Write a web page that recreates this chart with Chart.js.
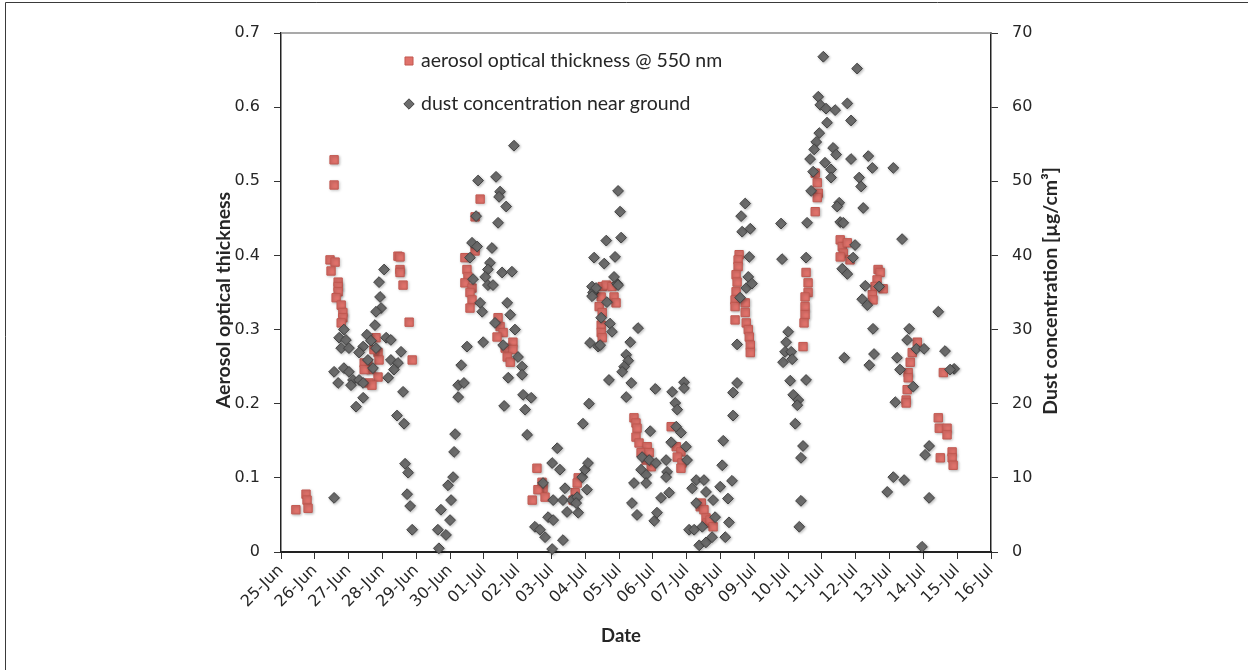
<!DOCTYPE html>
<html>
<head>
<meta charset="utf-8">
<script src="https://cdn.jsdelivr.net/npm/chart.js@4.4.1/dist/chart.umd.min.js"></script>
<style>
  html, body { margin: 0; padding: 0; background: #ffffff; }
  #wrap { width: 1248px; height: 670px; position: relative; }
</style>
</head>
<body>
<div id="wrap"><canvas id="c" width="1248" height="670"></canvas></div>
<script>
// ---- data (x = days since 25-Jun 00:00) ----
const dateLabels = ['25-Jun','26-Jun','27-Jun','28-Jun','29-Jun','30-Jun','01-Jul','02-Jul','03-Jul','04-Jul','05-Jul','06-Jul','07-Jul','08-Jul','09-Jul','10-Jul','11-Jul','12-Jul','13-Jul','14-Jul','15-Jul','16-Jul'];
const leftTickLabels = ['0','0.1','0.2','0.3','0.4','0.5','0.6','0.7'];
const rightTickLabels = ['0','10','20','30','40','50','60','70'];

const aotLabel = 'aerosol optical thickness @ 550 nm';
const dustLabel = 'dust concentration near ground';

const aotDays = [
  0.44,0.74,0.77,0.80,
  1.57,1.57,1.45,1.60,1.48,1.69,1.69,1.69,1.63,1.78,1.83,1.83,1.78,
  2.81,2.87,2.90,2.57,2.66,2.87,2.60,2.46,2.46,2.75,2.69,
  3.46,3.52,3.52,3.52,3.61,3.79,3.88,
  5.89,5.74,5.74,5.44,5.50,5.53,5.44,5.65,5.59,5.65,5.59,
  6.42,6.48,6.57,6.39,6.86,6.63,6.86,6.69,6.78,
  7.57,7.72,7.75,7.60,7.43,7.81,
  8.79,8.76,8.70,8.64,
  9.50,9.62,9.79,9.85,9.91,9.47,9.41,9.50,9.47,9.47,9.50,
  10.44,10.50,10.53,10.50,10.59,10.83,10.65,10.89,10.80,10.95,
  11.54,11.69,11.83,11.72,11.86,11.83,
  12.40,12.43,12.51,12.57,12.60,12.69,12.78,
  13.55,13.52,13.52,13.46,13.49,13.46,13.43,13.43,13.73,13.43,13.73,13.76,13.82,13.85,13.88,13.88,
  15.53,15.59,15.59,15.50,15.50,15.50,15.47,15.44,
  15.80,15.86,15.89,15.86,15.80,
  16.54,16.60,16.75,16.63,16.83,16.54,
  17.66,17.72,17.63,17.57,17.81,17.49,17.51,
  18.82,18.67,18.61,18.55,18.55,18.52,18.49,18.49,
  19.59,19.44,19.47,19.70,19.70,19.50,19.85,19.85,19.88
];
const aotValues = [
  0.057,0.078,0.070,0.059,
  0.529,0.495,0.394,0.391,0.379,0.364,0.358,0.351,0.343,0.333,0.323,0.316,0.309,
  0.289,0.269,0.259,0.255,0.246,0.236,0.228,0.255,0.246,0.273,0.225,
  0.399,0.398,0.381,0.377,0.360,0.310,0.259,
  0.476,0.452,0.406,0.397,0.381,0.371,0.363,0.356,0.350,0.340,0.329,
  0.316,0.304,0.296,0.290,0.283,0.275,0.273,0.263,0.256,
  0.113,0.094,0.086,0.084,0.070,0.074,
  0.100,0.093,0.080,0.070,
  0.358,0.360,0.358,0.344,0.336,0.344,0.331,0.323,0.306,0.296,0.289,
  0.181,0.174,0.167,0.155,0.147,0.142,0.134,0.134,0.124,0.115,
  0.169,0.142,0.135,0.128,0.120,0.113,
  0.061,0.066,0.057,0.046,0.039,0.043,0.034,
  0.401,0.394,0.385,0.374,0.364,0.351,0.340,0.331,0.336,0.313,0.323,0.309,0.300,0.290,0.279,0.269,
  0.377,0.363,0.350,0.344,0.331,0.320,0.309,0.277,
  0.511,0.498,0.484,0.478,0.459,
  0.421,0.412,0.417,0.403,0.394,0.398,
  0.381,0.377,0.367,0.358,0.355,0.347,0.340,
  0.283,0.269,0.256,0.242,0.235,0.219,0.205,0.201,
  0.242,0.181,0.167,0.167,0.158,0.127,0.135,0.127,0.117
];

const dustDays = [
  1.57,3.05,2.90,2.93,2.96,2.81,2.78,1.86,1.72,1.92,1.78,2.01,2.54,2.66,2.43,2.31,2.81,3.11,3.25,3.55,3.25,3.46,3.34,3.17,2.57,2.72,1.57,1.86,2.01,1.69,2.13,2.07,2.31,2.43,3.61,2.43,2.22,3.43,3.64,3.67,3.76,3.73,3.82,3.88,
  4.67,4.73,5.00,4.64,4.88,5.03,4.94,5.09,5.12,5.15,5.24,5.24,5.41,5.33,5.50,5.98,5.65,5.80,5.59,5.68,5.83,5.77,
  6.36,6.48,6.45,6.66,6.42,6.89,6.24,6.18,6.12,6.04,6.12,6.27,6.54,6.83,5.89,5.95,6.69,6.78,6.92,6.33,6.57,7.01,7.13,7.13,6.72,7.16,7.40,7.22,6.60,7.28,
  8.02,8.17,8.25,8.05,8.34,8.40,7.90,8.05,7.51,7.66,7.81,8.02,8.34,8.46,7.75,8.79,8.61,8.76,8.91,8.99,9.08,9.05,8.73,8.93,9.11,
  9.14,9.38,9.20,9.23,9.64,9.94,9.70,9.97,10.03,10.06,9.62,9.26,9.56,9.88,9.85,9.97,9.32,9.20,9.47,9.73,9.79,9.44,
  10.56,10.33,10.21,10.27,10.15,10.09,10.36,10.21,11.07,11.57,11.92,11.92,11.66,11.72,11.69,11.83,10.92,11.54,11.98,12.01,10.68,10.89,11.09,10.65,10.80,11.39,11.42,11.39,10.44,10.80,10.38,10.53,11.04,11.12,11.24,11.48,
  12.28,12.16,12.51,12.28,12.57,12.07,12.22,12.46,12.37,12.57,12.78,12.84,12.75,
  13.08,13.05,13.34,12.99,13.22,13.25,13.14,13.49,13.37,13.37,13.49,13.58,13.73,13.61,13.64,13.88,13.85,13.82,13.76,13.93,
  14.79,14.82,15.00,14.94,14.91,15.09,14.85,15.12,15.06,15.15,15.30,15.27,15.21,15.44,15.38,15.38,15.33,15.56,15.53,15.53,15.74,15.68,
  16.04,17.04,15.89,15.95,16.12,16.39,16.75,16.86,16.15,15.92,15.83,15.77,16.33,16.42,15.65,16.09,16.27,16.27,16.86,17.37,17.49,18.11,17.10,17.16,16.51,16.45,17.22,16.54,16.63,18.37,16.98,16.92,16.60,16.75,17.28,17.19,17.34,17.69,19.44,17.51,18.58,18.52,18.79,19.02,19.64,19.91,19.79,18.22,18.31,16.66,17.54,17.40,18.70,18.17,19.17,19.05,18.11,18.43,17.93,19.17,18.96
];
const dustValues = [
  7.3,38.1,36.4,34.4,32.9,32.4,30.6,30.0,28.9,28.6,27.5,27.5,29.3,28.5,27.7,26.9,27.5,28.9,28.6,27.0,25.9,25.5,24.6,23.5,25.9,24.8,24.3,24.8,24.3,22.8,23.2,22.5,23.2,22.8,21.6,20.8,19.6,18.4,17.3,11.9,10.7,7.8,6.2,3.0,
  0.5,5.7,4.3,3.0,2.3,7.0,9.0,10.1,13.5,15.9,20.9,22.5,22.8,25.2,27.7,28.3,41.7,41.2,39.7,36.8,50.1,45.3,
  50.6,48.6,47.9,46.6,44.4,54.8,41.0,39.0,38.1,37.1,36.0,36.0,37.7,37.8,33.6,32.4,33.6,32.0,30.0,30.9,27.9,26.3,25.0,23.9,23.5,21.2,20.8,19.2,19.7,15.8,
  12.0,14.0,11.1,7.0,7.0,8.6,4.7,4.3,3.4,3.0,2.0,0.4,1.6,5.4,9.3,5.3,7.0,7.4,10.1,11.1,12.0,8.4,6.6,17.3,20.0,
  28.2,27.7,35.8,35.0,33.7,36.2,23.2,48.7,45.9,42.4,42.0,39.7,38.9,39.8,37.1,36.0,35.6,34.5,31.6,30.8,29.7,27.9,
  30.2,28.3,26.6,25.8,25.0,24.3,22.8,20.9,22.0,21.6,22.9,22.1,20.1,19.2,16.9,16.1,16.3,14.8,14.2,12.4,12.8,12.4,12.0,11.1,10.4,12.4,10.8,10.1,9.3,9.3,6.6,5.0,4.2,5.3,7.3,8.0,
  9.7,8.6,9.7,6.6,8.1,3.0,3.0,3.4,0.9,1.3,7.0,4.7,2.0,
  15.0,11.7,9.6,8.8,7.2,4.0,2.0,22.8,21.5,18.4,28.0,34.3,47.0,45.3,43.2,43.6,39.8,37.1,35.6,36.2,
  44.3,39.5,29.7,28.3,27.0,27.0,25.6,26.0,23.1,21.2,20.5,19.8,17.3,14.3,12.7,6.9,3.4,44.4,39.7,23.2,51.3,48.7,
  66.8,65.2,61.4,60.3,59.8,59.6,60.5,58.2,57.9,56.5,55.3,54.3,54.5,53.6,53.0,52.5,51.6,50.5,53.0,53.4,51.8,51.8,50.5,49.3,47.1,46.6,46.4,44.5,44.4,42.2,41.4,39.7,38.2,37.5,35.9,34.1,33.3,35.8,32.4,30.1,30.1,28.6,27.4,27.4,27.1,24.7,24.6,26.2,24.6,26.2,26.7,25.2,22.3,20.2,14.3,13.1,10.1,9.7,8.1,7.3,0.7
];

// ---- styles ----
const AOT_FILL = '#e0726b', AOT_EDGE = '#c25850';
const DUST_FILL = '#6c6c6c', DUST_EDGE = '#434343';
const TEXT = '#262626';
const TICK_FONT = { family: 'DejaVu Sans', size: 16 };
const TITLE_FONT = 'bold 19.5px Lato';
const LEGEND_FONT = '19.5px Lato';

const aotPoints = aotDays.map((d, i) => ({ x: d, y: aotValues[i] }));
const dustPoints = dustDays.map((d, i) => ({ x: d, y: dustValues[i] }));

const shadowPlugin = {
  id: 'markerShadow',
  beforeDatasetDraw(chart) {
    const ctx = chart.ctx;
    ctx.save();
    ctx.shadowColor = 'rgba(0,0,0,0.28)';
    ctx.shadowBlur = 3;
    ctx.shadowOffsetX = 1;
    ctx.shadowOffsetY = 1;
  },
  afterDatasetDraw(chart) { chart.ctx.restore(); }
};

const decorPlugin = {
  id: 'decor',
  afterDraw(chart) {
    const ctx = chart.ctx;
    const a = chart.chartArea;
    ctx.save();
    // outer frame
    ctx.strokeStyle = '#3a3a3a';
    ctx.lineWidth = 1;
    ctx.beginPath();
    ctx.moveTo(5.5, 670); ctx.lineTo(5.5, 2.5); ctx.lineTo(1248, 2.5);
    ctx.stroke();
    // top border of plot area
    ctx.strokeStyle = '#8c8c8c';
    ctx.lineWidth = 1.5;
    ctx.beginPath();
    ctx.moveTo(a.left, a.top); ctx.lineTo(a.right, a.top);
    ctx.stroke();

    // axis titles
    ctx.fillStyle = TEXT;
    ctx.font = TITLE_FONT;
    ctx.textAlign = 'center';
    ctx.textBaseline = 'middle';
    ctx.save();
    ctx.translate(224, 300);
    ctx.rotate(-Math.PI / 2);
    ctx.fillText('Aerosol optical thickness', 0, 0);
    ctx.restore();
    ctx.save();
    ctx.translate(1051, 291);
    ctx.rotate(-Math.PI / 2);
    ctx.fillText('Dust concentration [\u00b5g/cm\u00b3]', 0, 0);
    ctx.restore();
    ctx.font = 'bold 18.5px Lato';
    ctx.fillText('Date', 621, 636);

    // legend inside plot
    const items = [
      { label: aotLabel, style: 'rect', r: 5.7, fill: AOT_FILL, edge: AOT_EDGE, y: 61 },
      { label: dustLabel, style: 'rectRot', r: 5.2, fill: DUST_FILL, edge: DUST_EDGE, y: 104 }
    ];
    items.forEach(it => {
      ctx.fillStyle = it.fill;
      ctx.strokeStyle = it.edge;
      ctx.lineWidth = 1;
      Chart.helpers.drawPoint(ctx, { pointStyle: it.style, radius: it.r, rotation: 0, borderWidth: 1 }, 409, it.y);
      ctx.fillStyle = TEXT;
      ctx.font = LEGEND_FONT;
      ctx.textAlign = 'left';
      ctx.textBaseline = 'middle';
      ctx.fillText(it.label, 421, it.y);
    });
    ctx.restore();
  }
};

const axisLine = (w) => ({ display: true, color: '#222222', width: w });
const tickGrid = { display: true, drawOnChartArea: false, drawTicks: true, tickLength: 7, tickColor: '#333333', tickWidth: 1 };

new Chart(document.getElementById('c'), {
  type: 'scatter',
  data: {
    datasets: [
      {
        label: dustLabel, data: dustPoints, yAxisID: 'y1', order: 0, clip: false,
        pointStyle: 'rectRot', pointRadius: 5.4, pointHoverRadius: 5.4,
        backgroundColor: DUST_FILL, borderColor: DUST_EDGE, borderWidth: 1
      },
      {
        label: aotLabel, data: aotPoints, yAxisID: 'y', order: 1, clip: false,
        pointStyle: 'rect', pointRadius: 5.9, pointHoverRadius: 5.9,
        backgroundColor: AOT_FILL, borderColor: AOT_EDGE, borderWidth: 1
      }
    ]
  },
  options: {
    responsive: false,
    devicePixelRatio: 1,
    animation: false,
    events: [],
    layout: { padding: { top: 33, left: 0, right: 0, bottom: 0 } },
    plugins: { legend: { display: false }, tooltip: { enabled: false }, title: { display: false } },
    scales: {
      x: {
        type: 'linear', position: 'bottom', min: 0, max: dateLabels.length - 1,
        afterBuildTicks(scale) { scale.ticks = dateLabels.map((_, i) => ({ value: i })); },
        afterFit(scale) { scale.height = 118; },
        ticks: {
          autoSkip: false, maxRotation: 45, minRotation: 45, padding: 2,
          color: TEXT, font: TICK_FONT,
          callback: (v) => dateLabels[v]
        },
        grid: tickGrid,
        border: axisLine(2)
      },
      y: {
        type: 'linear', position: 'left', min: 0, max: 0.7,
        afterBuildTicks(scale) { scale.ticks = leftTickLabels.map((t) => ({ value: parseFloat(t) })); },
        afterFit(scale) { scale.width = 281; },
        ticks: { padding: 14, color: TEXT, font: TICK_FONT, callback: (v, i) => leftTickLabels[i] },
        grid: tickGrid,
        border: axisLine(1.5)
      },
      y1: {
        type: 'linear', position: 'right', min: 0, max: 70,
        afterBuildTicks(scale) { scale.ticks = rightTickLabels.map((t) => ({ value: parseFloat(t) })); },
        afterFit(scale) { scale.width = 257; },
        ticks: { padding: 14, color: TEXT, font: TICK_FONT, callback: (v, i) => rightTickLabels[i] },
        grid: tickGrid,
        border: axisLine(1.5)
      }
    }
  },
  plugins: [shadowPlugin, decorPlugin]
});
</script>
</body>
</html>
